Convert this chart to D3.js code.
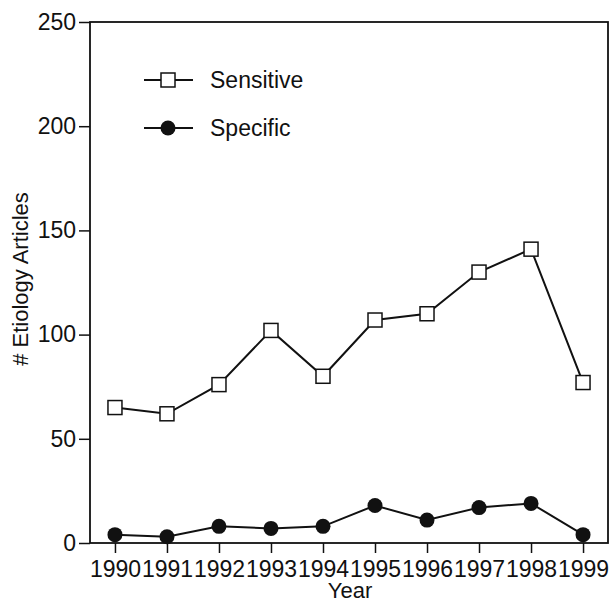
<!DOCTYPE html>
<html>
<head>
<meta charset="utf-8">
<script src="https://cdn.jsdelivr.net/npm/d3@7"></script>
<style>
  body { margin: 0; background: #fff; }
  svg text { font-family: "Liberation Sans", Arial, sans-serif; fill: #111; }
</style>
</head>
<body>
<div id="chart"></div>
<script>
// Etiology articles per year
const years = [1990, 1991, 1992, 1993, 1994, 1995, 1996, 1997, 1998, 1999];
const sensitive = [65, 62, 76, 102, 80, 107, 110, 130, 141, 77];
const specific = [4, 3, 8, 7, 8, 18, 11, 17, 19, 4];
const yTicks = [0, 50, 100, 150, 200, 250];

const width = 611, height = 603;
const plotLeft = 90, plotRight = 608, plotTop = 22, plotBottom = 543;
const fontSize = 23;

const svg = d3.select("#chart").append("svg")
  .attr("width", width)
  .attr("height", height);

const x = d3.scaleLinear().domain([1989.52, 1999.48]).range([plotLeft, plotRight]);
const y = d3.scaleLinear().domain([0, 250]).range([plotBottom, plotTop]);

// frame
svg.append("rect")
  .attr("x", plotLeft).attr("y", plotTop)
  .attr("width", plotRight - plotLeft).attr("height", plotBottom - plotTop)
  .attr("fill", "none").attr("stroke", "#111").attr("stroke-width", 1.8);

// y axis
const yAxis = svg.append("g")
  .attr("transform", `translate(${plotLeft},0)`)
  .call(d3.axisLeft(y).tickValues(yTicks).tickSize(11).tickPadding(3));
yAxis.select(".domain").remove();
yAxis.selectAll("line").attr("stroke", "#111").attr("stroke-width", 1.5);
yAxis.selectAll("text").attr("font-size", fontSize).attr("fill", "#111")
  .attr("font-family", "Liberation Sans, Arial, sans-serif");

// x axis
const xAxis = svg.append("g")
  .attr("transform", `translate(0,${plotBottom})`)
  .call(d3.axisBottom(x).tickValues(years).tickFormat(d3.format("d")).tickSize(10).tickPadding(8));
xAxis.select(".domain").remove();
xAxis.selectAll("line").attr("stroke", "#111").attr("stroke-width", 1.5);
xAxis.selectAll("text").attr("font-size", fontSize).attr("fill", "#111")
  .attr("font-family", "Liberation Sans, Arial, sans-serif");

// axis titles
svg.append("text")
  .attr("x", 350)
  .attr("y", 598)
  .attr("text-anchor", "middle")
  .attr("font-size", 22)
  .text("Year");

svg.append("text")
  .attr("transform", "translate(28,279) rotate(-90)")
  .attr("text-anchor", "middle")
  .attr("font-size", 22)
  .text("# Etiology Articles");

const line = d3.line()
  .x((d, i) => x(years[i]))
  .y(d => y(d));

// sensitive series
svg.append("path")
  .datum(sensitive)
  .attr("d", line)
  .attr("fill", "none").attr("stroke", "#111").attr("stroke-width", 2);

svg.selectAll(".sq")
  .data(sensitive)
  .enter().append("rect")
  .attr("class", "sq")
  .attr("x", (d, i) => x(years[i]) - 7)
  .attr("y", d => y(d) - 7)
  .attr("width", 14).attr("height", 14)
  .attr("fill", "#fff").attr("stroke", "#111").attr("stroke-width", 1.5);

// specific series
svg.append("path")
  .datum(specific)
  .attr("d", line)
  .attr("fill", "none").attr("stroke", "#111").attr("stroke-width", 2);

svg.selectAll(".dot")
  .data(specific)
  .enter().append("circle")
  .attr("class", "dot")
  .attr("cx", (d, i) => x(years[i]))
  .attr("cy", d => y(d))
  .attr("r", 7.5)
  .attr("fill", "#111");

// legend
const legend = svg.append("g");
const legendRows = [
  { name: "Sensitive", y: 80, marker: "square" },
  { name: "Specific", y: 128, marker: "circle" }
];
legendRows.forEach(row => {
  legend.append("line")
    .attr("x1", 144).attr("x2", 193)
    .attr("y1", row.y).attr("y2", row.y)
    .attr("stroke", "#111").attr("stroke-width", 2);
  if (row.marker === "square") {
    legend.append("rect")
      .attr("x", 161).attr("y", row.y - 7)
      .attr("width", 14).attr("height", 14)
      .attr("fill", "#fff").attr("stroke", "#111").attr("stroke-width", 1.5);
  } else {
    legend.append("circle")
      .attr("cx", 168).attr("cy", row.y).attr("r", 7.5)
      .attr("fill", "#111");
  }
  legend.append("text")
    .attr("x", 210).attr("y", row.y + 8)
    .attr("font-size", fontSize)
    .text(row.name);
});
</script>
</body>
</html>
